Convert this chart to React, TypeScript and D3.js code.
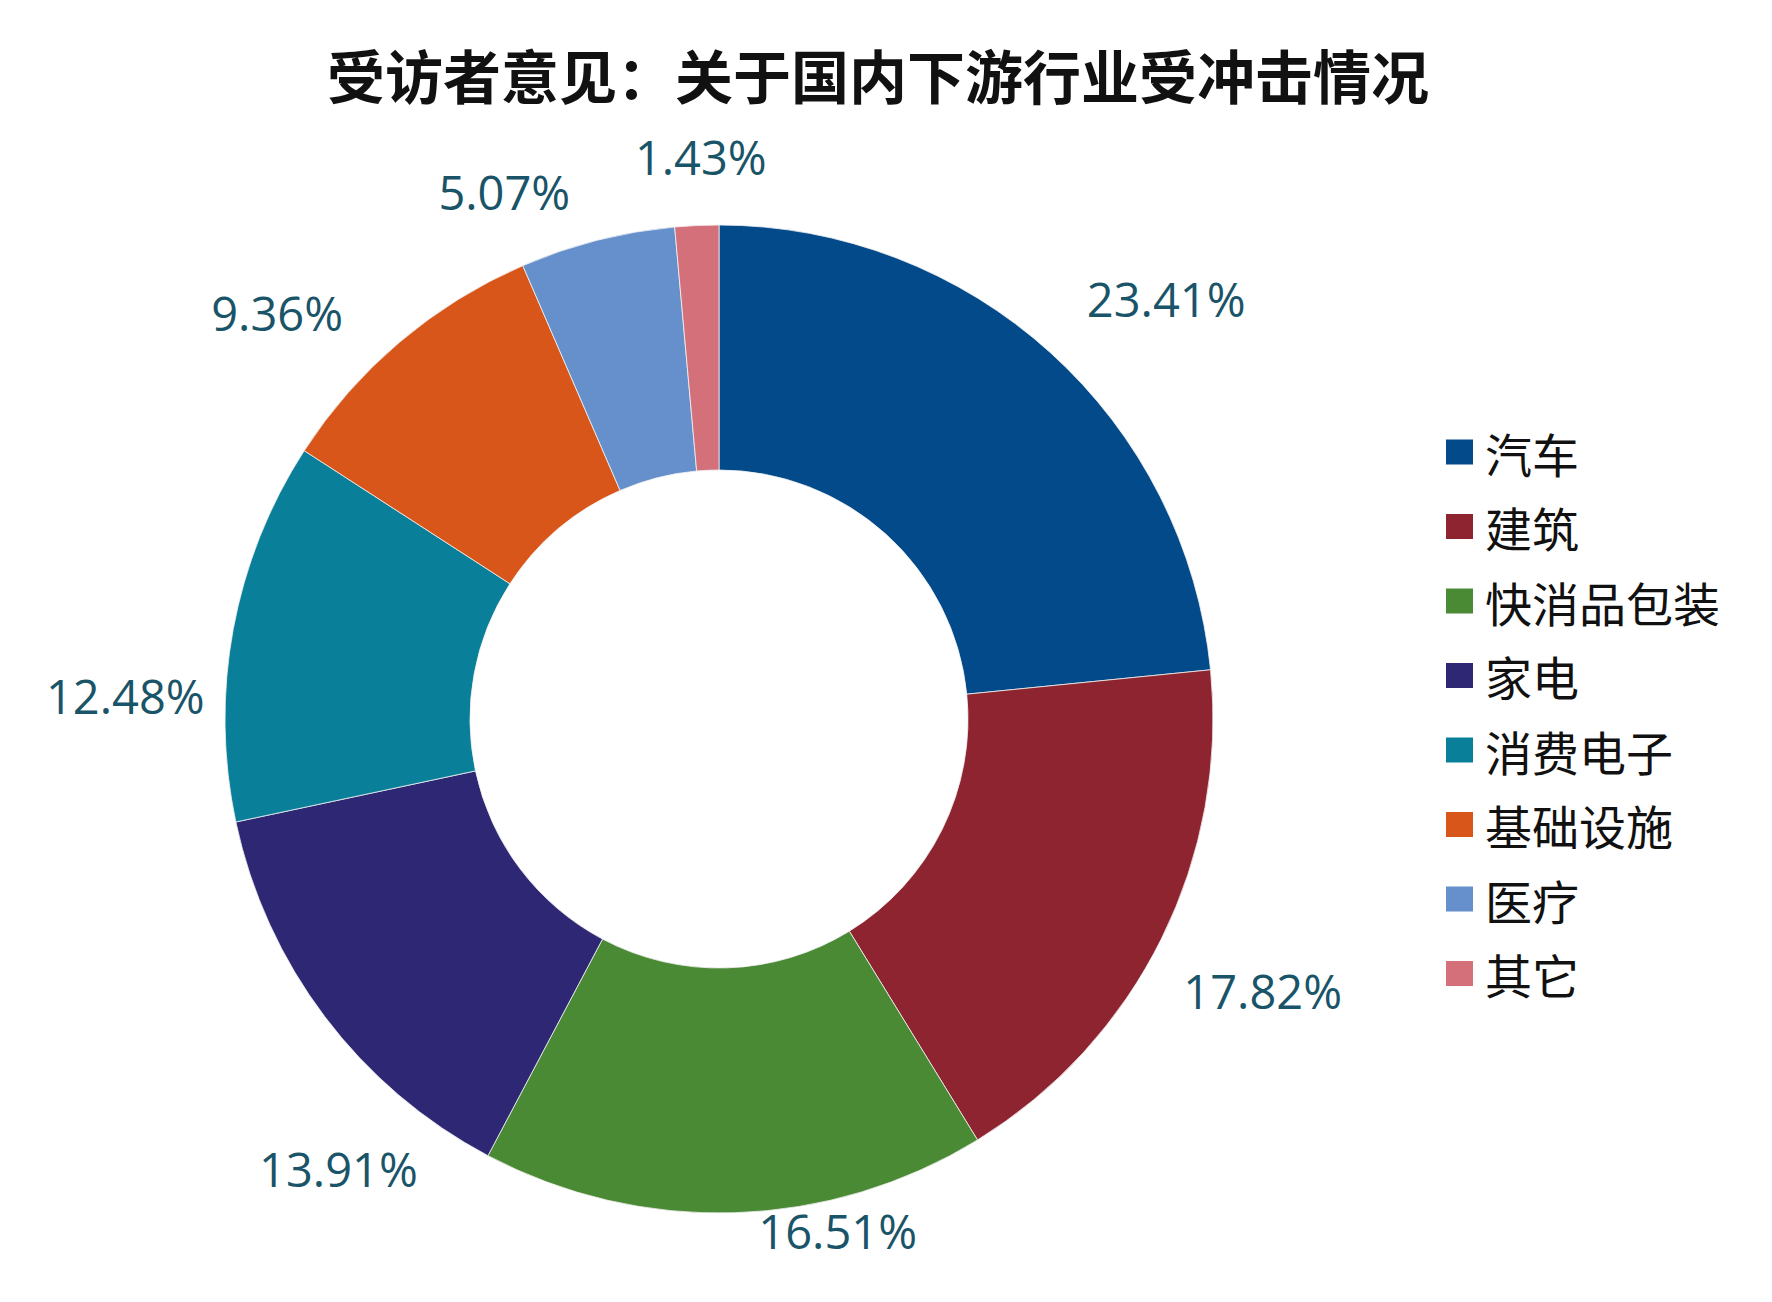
import React from "react";
import * as d3 from "d3";

const categories = ["汽车", "建筑", "快消品包装", "家电", "消费电子", "基础设施", "医疗", "其它"];
const values = [23.41, 17.82, 16.51, 13.91, 12.48, 9.36, 5.07, 1.43];
const colors = ["#034a8b", "#8e2430", "#4a8a35", "#2e2874", "#0a7f99", "#d9561b", "#6590cb", "#d4707a"];
const titleText = "受访者意见：关于国内下游行业受冲击情况";

// label placement nudges (degrees relative to slice mid-angle, and radius)
const labelAngleNudge = [5.0, 0.6, -11.1, -13.0, -8.7, -7.5, -8.1, 0.7];
const labelRadius = [610, 610, 530, 593, 594, 597, 564, 557];

const W = 1772;
const H = 1302;
const cx = 719;
const cy = 719;
const outerR = 494;
const innerR = 249;

export default function App() {
  const pie = d3.pie<number>().sort(null).value((d) => d)(values);
  const arc = d3.arc<d3.PieArcDatum<number>>().innerRadius(innerR).outerRadius(outerR);
  const legendY = d3.scaleLinear().domain([0, 1]).range([452, 526.5]);

  return (
    <svg
      width={W}
      height={H}
      viewBox={`0 0 ${W} ${H}`}
      style={{ position: "absolute", left: 0, top: 0, background: "#fff" }}
    >
      <rect x={0} y={0} width={W} height={H} fill="#fff" />
      <text
        x={878}
        y={74}
        textAnchor="middle"
        dominantBaseline="central"
        fontFamily="'Noto Sans CJK SC', sans-serif"
        fontWeight={700}
        fontSize={58}
        fill="#111"
      >
        {titleText}
      </text>
      <g transform={`translate(${cx},${cy})`}>
        {pie.map((p, i) => (
          <path key={i} d={arc(p) || ""} fill={colors[i]} stroke="#f2f2f2" strokeWidth={0.8} />
        ))}
        {pie.map((p, i) => {
          const mid = (p.startAngle + p.endAngle) / 2 + (labelAngleNudge[i] * Math.PI) / 180;
          const r = labelRadius[i];
          const x = Math.sin(mid) * r;
          const y = -Math.cos(mid) * r - 5;
          return (
            <text
              key={"l" + i}
              x={x}
              y={y}
              textAnchor="middle"
              dominantBaseline="central"
              fontFamily="'Open Sans', 'Noto Sans', sans-serif"
              fontSize={47}
              fill="#1a5468"
            >
              {d3.format(".2f")(values[i]) + "%"}
            </text>
          );
        })}
      </g>
      <g>
        {categories.map((c, i) => (
          <g key={c} transform={`translate(0,${legendY(i)})`}>
            <rect x={1446} y={-12.5} width={27} height={25} fill={colors[i]} />
            <text
              x={1485}
              y={0}
              dominantBaseline="central"
              fontFamily="'Noto Sans CJK SC', sans-serif"
              fontSize={47}
              fill="#111"
            >
              {c}
            </text>
          </g>
        ))}
      </g>
    </svg>
  );
}
